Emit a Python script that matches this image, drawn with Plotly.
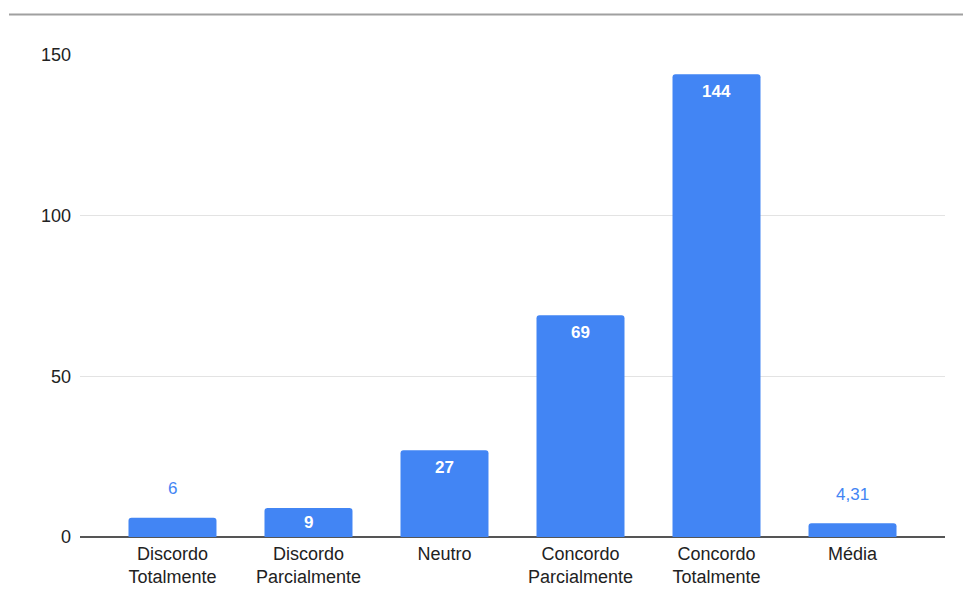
import plotly.graph_objects as go

categories = ["Discordo<br>Totalmente", "Discordo<br>Parcialmente", "Neutro",
              "Concordo<br>Parcialmente", "Concordo<br>Totalmente", "Média"]
values = [6, 9, 27, 69, 144, 4.31]
value_labels = ["6", "9", "27", "69", "144", "4,31"]
y_ticks = [0, 50, 100, 150]

BLUE = "#4285F4"
FONT = "Liberation Sans, Arial, sans-serif"

fig = go.Figure(go.Bar(
    x=categories, y=values, marker=dict(color=BLUE, cornerradius=3, line=dict(width=0)),
    hoverinfo="skip",
))

annotations = []
for c, v, t in zip(categories, values, value_labels):
    if v < 8:
        annotations.append(dict(x=c, y=v, text=t, showarrow=False, yanchor="middle", yshift=29,
                                font=dict(family=FONT, size=17, color=BLUE)))
    elif v < 20:
        annotations.append(dict(x=c, y=v / 2, text="<b>%s</b>" % t, showarrow=False, yanchor="middle",
                                font=dict(family=FONT, size=17, color="white")))
    else:
        annotations.append(dict(x=c, y=v, text="<b>%s</b>" % t, showarrow=False, yanchor="middle", yshift=-17,
                                font=dict(family=FONT, size=17, color="white")))

fig.update_layout(
    width=963, height=610,
    margin=dict(l=80, r=18, t=55, b=73),
    paper_bgcolor="white", plot_bgcolor="white",
    bargap=0.353,
    showlegend=False,
    font=dict(family=FONT, size=18, color="#222222"),
    annotations=annotations,
    xaxis=dict(range=[-0.68, 5.68], showgrid=False, showline=False, ticks="",
               tickfont=dict(size=18, color="#222222"), ticklabelstandoff=4, fixedrange=True),
    yaxis=dict(range=[0, 150], tickvals=y_ticks, showgrid=True, gridcolor="#e3e3e3", gridwidth=1,
               zeroline=True, zerolinecolor="#555555", zerolinewidth=1.5, showline=False,
               tickfont=dict(size=18, color="#222222"), ticklabelstandoff=8, fixedrange=True),
    shapes=[dict(type="line", xref="paper", yref="paper", x0=(9 - 80) / 865, x1=(963 - 80) / 865,
                 y0=(537 - 14.5) / 482, y1=(537 - 14.5) / 482, line=dict(color="#a0a0a0", width=2))],
)

fig.write_html("out.html", config={"displayModeBar": False})
